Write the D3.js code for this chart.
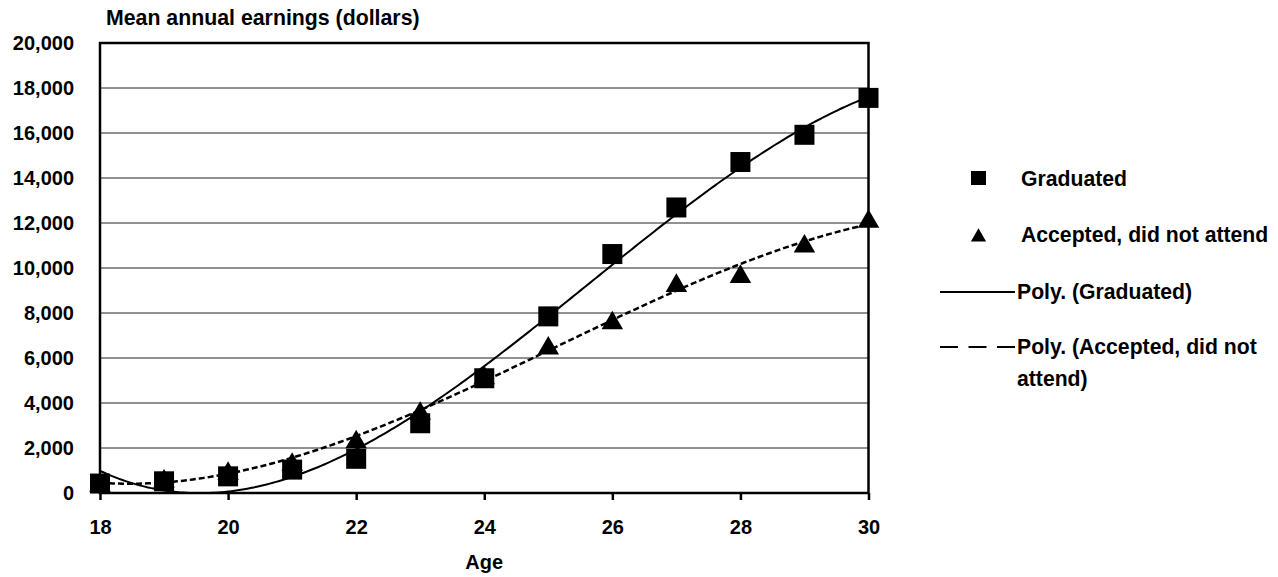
<!DOCTYPE html>
<html><head><meta charset="utf-8">
<script src="https://cdn.jsdelivr.net/npm/d3@7"></script>
<style>body{margin:0;background:#fff}svg{display:block}text{font-family:"Liberation Sans",Arial,sans-serif;font-weight:bold;fill:#000}</style>
</head><body>
<script>
const ages = [18,19,20,21,22,23,24,25,26,27,28,29,30];
const graduated = [420,520,740,1040,1520,3100,5100,7850,10620,12690,14710,15920,17560];
const acceptedNotAttend = [420,600,950,1350,2350,3620,5200,6520,7640,9300,9700,11050,12150];
const yTicks = [0,2000,4000,6000,8000,10000,12000,14000,16000,18000,20000];
const xTicks = [18,20,22,24,26,28,30];
const legendLabels = ["Graduated","Accepted, did not attend","Poly. (Graduated)","Poly. (Accepted, did not attend)"];
const polyOrder = 3;

const W=1278,H=577;
const svg=d3.select("body").append("svg").attr("width",W).attr("height",H);
const x=d3.scaleLinear().domain([18,30]).range([100,868.5]);
const y=d3.scaleLinear().domain([0,20000]).range([493,43]);

// least squares polynomial fit (Excel-style polynomial trendline)
function polyfit(xs,ys,n){
  const m=n+1, A=Array.from({length:m},()=>new Array(m+1).fill(0));
  const c=25;
  for(let i=0;i<xs.length;i++){
    const t=xs[i]-c;
    for(let r=0;r<m;r++){for(let k=0;k<m;k++)A[r][k]+=Math.pow(t,r+k);A[r][m]+=ys[i]*Math.pow(t,r);}
  }
  for(let i=0;i<m;i++){let p=i;for(let r=i+1;r<m;r++)if(Math.abs(A[r][i])>Math.abs(A[p][i]))p=r;[A[i],A[p]]=[A[p],A[i]];
    for(let r=0;r<m;r++){if(r===i)continue;const f=A[r][i]/A[i][i];for(let k=i;k<=m;k++)A[r][k]-=f*A[i][k];}}
  const co=A.map((row,i)=>row[m]/row[i]);
  return v=>{const t=v-c;let s=0;for(let i=0;i<m;i++)s+=co[i]*Math.pow(t,i);return s;};
}

// gridlines
svg.append("g").selectAll("line").data(yTicks.slice(1,-1)).join("line")
  .attr("x1",x(18)).attr("x2",x(30)).attr("y1",d=>y(d)).attr("y2",d=>y(d))
  .attr("stroke","#222").attr("stroke-width",1);

svg.append("clipPath").attr("id","clip").append("rect").attr("x",x(18)).attr("y",y(20000)).attr("width",x(30)-x(18)).attr("height",y(0)-y(20000));

const fG=polyfit(ages,graduated,polyOrder), fA=polyfit(ages,acceptedNotAttend,polyOrder);
const samp=d3.range(18,30.001,0.05);
const line=d3.line().x(d=>x(d[0])).y(d=>y(d[1]));
svg.append("path").attr("clip-path","url(#clip)").attr("d",line(samp.map(v=>[v,fG(v)]))).attr("fill","none").attr("stroke","#000").attr("stroke-width",2);
svg.append("path").attr("clip-path","url(#clip)").attr("d",line(samp.map(v=>[v,fA(v)]))).attr("fill","none").attr("stroke","#000").attr("stroke-width",2.5).attr("stroke-dasharray","6,3");

// frame
svg.append("rect").attr("x",x(18)).attr("y",y(20000)).attr("width",x(30)-x(18)).attr("height",y(0)-y(20000)).attr("fill","none").attr("stroke","#000").attr("stroke-width",2.5);

// axes
const xAxis=svg.append("g").attr("transform",`translate(0,${y(0)})`).call(d3.axisBottom(x).tickValues(xTicks).tickSize(7).tickPadding(20).tickFormat(d3.format("d")));
xAxis.select(".domain").remove();
xAxis.selectAll("line").attr("stroke-width",2.5);
xAxis.selectAll("text").attr("font-size",20);
const yAxis=svg.append("g").attr("transform",`translate(${x(18)},0)`).call(d3.axisLeft(y).tickValues(yTicks).tickSize(0).tickPadding(26).tickFormat(d3.format(",")));
yAxis.select(".domain").remove();
yAxis.selectAll("text").attr("font-size",20);
svg.selectAll(".tick text").attr("font-family",'"Liberation Sans",Arial,sans-serif').attr("font-weight","bold");

// markers
const tri=d3.symbol().type(d3.symbolTriangle).size(200);
svg.append("g").selectAll("path").data(ages).join("path")
  .attr("d",tri).attr("transform",(d,i)=>`translate(${x(d)},${y(acceptedNotAttend[i])+2})`).attr("fill","#000");
svg.append("g").selectAll("rect").data(ages).join("rect")
  .attr("x",d=>x(d)-10).attr("y",(d,i)=>y(graduated[i])-10).attr("width",20).attr("height",20).attr("fill","#000");

// titles
svg.append("text").attr("x",106).attr("y",25).attr("font-size",21.3).text("Mean annual earnings (dollars)");
svg.append("text").attr("x",x(24)).attr("y",569).attr("text-anchor","middle").attr("font-size",20).text("Age");

// legend
const lg=svg.append("g").attr("font-size",21.2);
lg.append("rect").attr("x",971).attr("y",171).attr("width",15).attr("height",14).attr("fill","#000");
lg.append("text").attr("x",1021).attr("y",186).text(legendLabels[0]);
lg.append("path").attr("d",d3.symbol().type(d3.symbolTriangle).size(100)).attr("transform","translate(978.5,237)").attr("fill","#000");
lg.append("text").attr("x",1021).attr("y",242).text(legendLabels[1]);
lg.append("line").attr("x1",940).attr("x2",1015).attr("y1",292).attr("y2",292).attr("stroke","#000").attr("stroke-width",2);
lg.append("text").attr("x",1017).attr("y",299).text(legendLabels[2]);
lg.append("line").attr("x1",940).attr("x2",1015).attr("y1",347).attr("y2",347).attr("stroke","#000").attr("stroke-width",2).attr("stroke-dasharray","18,10.5");
const t4=lg.append("text").attr("x",1017).attr("y",354);
t4.append("tspan").text("Poly. (Accepted, did not");
t4.append("tspan").attr("x",1017).attr("dy",32).text("attend)");
</script>
</body></html>
